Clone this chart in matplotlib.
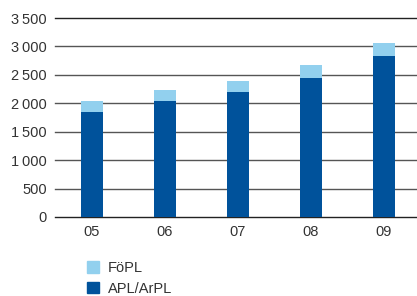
import numpy as np
import matplotlib.pyplot as plt
from matplotlib.patches import Patch

years = ["05", "06", "07", "08", "09"]
apl = [1850, 2045, 2200, 2450, 2835]
fopl = [195, 190, 195, 225, 225]
y_ticks = [0, 500, 1000, 1500, 2000, 2500, 3000, 3500]
y_labels = ["0", "500", "1\u2009000", "1\u2009500", "2\u2009000", "2\u2009500", "3\u2009000", "3\u2009500"]

dark = "#00529b"
light = "#92d0ee"
text_col = "#333333"

plt.rcParams["font.family"] = ["Liberation Sans", "DejaVu Sans"]

fig = plt.figure(figsize=(4.17, 2.96), dpi=100)
ax = fig.add_axes([55 / 417, 1 - 217 / 296, 1 - 55 / 417, 199 / 296])

x = np.arange(len(years))
ax.bar(x, apl, width=0.3, color=dark, zorder=3)
ax.bar(x, fopl, width=0.3, bottom=apl, color=light, zorder=3)

for v in y_ticks:
    ax.axhline(v, color="#222222" if v in (0, 3500) else "#555555", lw=1.0, zorder=1, clip_on=False)

ax.set_xlim(-0.507, 4.452)
ax.set_ylim(0, 3500)
ax.set_xticks(x)
ax.set_xticklabels(years)
ax.set_yticks(y_ticks)
ax.set_yticklabels(y_labels)
ax.tick_params(length=0, labelsize=10.5, colors=text_col)
ax.tick_params(axis="y", pad=6)
ax.tick_params(axis="x", pad=6)
for s in ax.spines.values():
    s.set_visible(False)

handles = [Patch(color=light, label="FöPL"), Patch(color=dark, label="APL/ArPL")]
fig.legend(handles=handles, loc="upper left", bbox_to_anchor=(74 / 417, 1 - 248 / 296),
           frameon=False, fontsize=10.5, labelcolor=text_col, handlelength=0.8,
           handleheight=0.8, handletextpad=0.6, labelspacing=0.45)

fig.savefig("out.png", dpi=100)
